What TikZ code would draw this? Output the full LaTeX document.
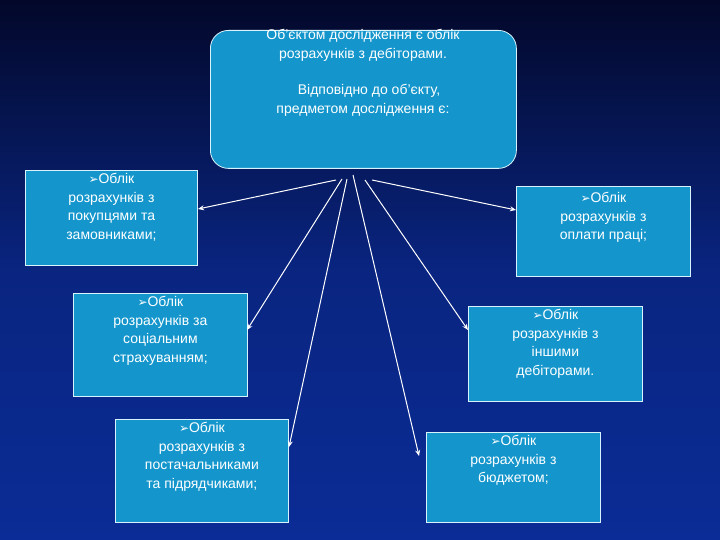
\documentclass[tikz,border=0pt]{standalone}
\usepackage{fontspec}
\setmainfont{Liberation Sans}
\newfontfamily\dv{DejaVu Sans}
\usetikzlibrary{arrows.meta}
\definecolor{boxc}{HTML}{1496CC}
\definecolor{bgtop}{HTML}{03082A}
\definecolor{bgbot}{HTML}{0B2C96}
\newcommand{\arr}{{\dv\fontsize{12}{12}\selectfont ➢}}
\begin{document}
\begin{tikzpicture}[x=1pt,y=-1pt,
  bx/.style={draw=white!85!cyan,line width=0.8pt,fill=boxc,text=white,align=center,font=\fontsize{14}{18.5}\selectfont,inner sep=0pt},
  con/.style={draw=white,line width=1pt,-{Stealth[length=6pt,width=5pt]}}]
\fill[top color=bgtop,bottom color=bgbot,middle color=bgbot!80!bgtop] (0,0) rectangle (720,540);
\useasboundingbox (0,0) rectangle (720,540);
\node[bx,rounded corners=18pt,minimum width=306pt,minimum height=138pt,anchor=north west] (top) at (210,30) {};
\node[text=white,align=center,font=\fontsize{14}{18.5}\selectfont,anchor=north] (tt) at (363,26) {Об'єктом дослідження є облік\\розрахунків з дебіторами.\\[18pt]\hspace*{12pt}Відповідно до об'єкту,\\предметом дослідження є:};
\node[bx,minimum width=172pt,minimum height=95pt,anchor=north west] (l1) at (25,170) {};
\node[text=white,align=center,font=\fontsize{14}{18.5}\selectfont,anchor=north] at (l1.north) {\arr Облік\\розрахунків з\\покупцями та\\замовниками;};
\node[bx,minimum width=174pt,minimum height=90pt,anchor=north west] (r1) at (516,186) {};
\node[text=white,align=center,font=\fontsize{14}{18.5}\selectfont,anchor=north] at ([yshift=-3pt]r1.north) {\arr Облік\\розрахунків з\\оплати праці;};
\node[bx,minimum width=174pt,minimum height=103pt,anchor=north west] (l2) at (73,293) {};
\node[text=white,align=center,font=\fontsize{14}{18.5}\selectfont,anchor=north] at (l2.north) {\arr Облік\\розрахунків за\\соціальним\\страхуванням;};
\node[bx,minimum width=174pt,minimum height=95pt,anchor=north west] (r2) at (468,306) {};
\node[text=white,align=center,font=\fontsize{14}{18.5}\selectfont,anchor=north] at (r2.north) {\arr Облік\\розрахунків з\\іншими\\дебіторами.};
\node[bx,minimum width=173pt,minimum height=103pt,anchor=north west] (l3) at (115,419) {};
\node[text=white,align=center,font=\fontsize{14}{18.5}\selectfont,anchor=north] at (l3.north) {\arr Облік\\розрахунків з\\постачальниками\\та підрядчиками;};
\node[bx,minimum width=174pt,minimum height=90pt,anchor=north west] (r3) at (426,432) {};
\node[text=white,align=center,font=\fontsize{14}{18.5}\selectfont,anchor=north] at (r3.north) {\arr Облік\\розрахунків з\\бюджетом;};
\coordinate (s1) at (336,180); \coordinate (s2) at (342,179); \coordinate (s3) at (347,179);
\coordinate (s4) at (353,175); \coordinate (s5) at (365,180); \coordinate (s6) at (372,180);
\coordinate (e1) at (198,209); \coordinate (e2) at (247,330); \coordinate (e3) at (289,447);
\coordinate (e4) at (419,456); \coordinate (e5) at (468,330); \coordinate (e6) at (516,210);
\draw[con] (s1) -- (e1); \draw[con] (s2) -- (e2); \draw[con] (s3) -- (e3);
\draw[con] (s4) -- (e4); \draw[con] (s5) -- (e5); \draw[con] (s6) -- (e6);
\end{tikzpicture}
\end{document}
